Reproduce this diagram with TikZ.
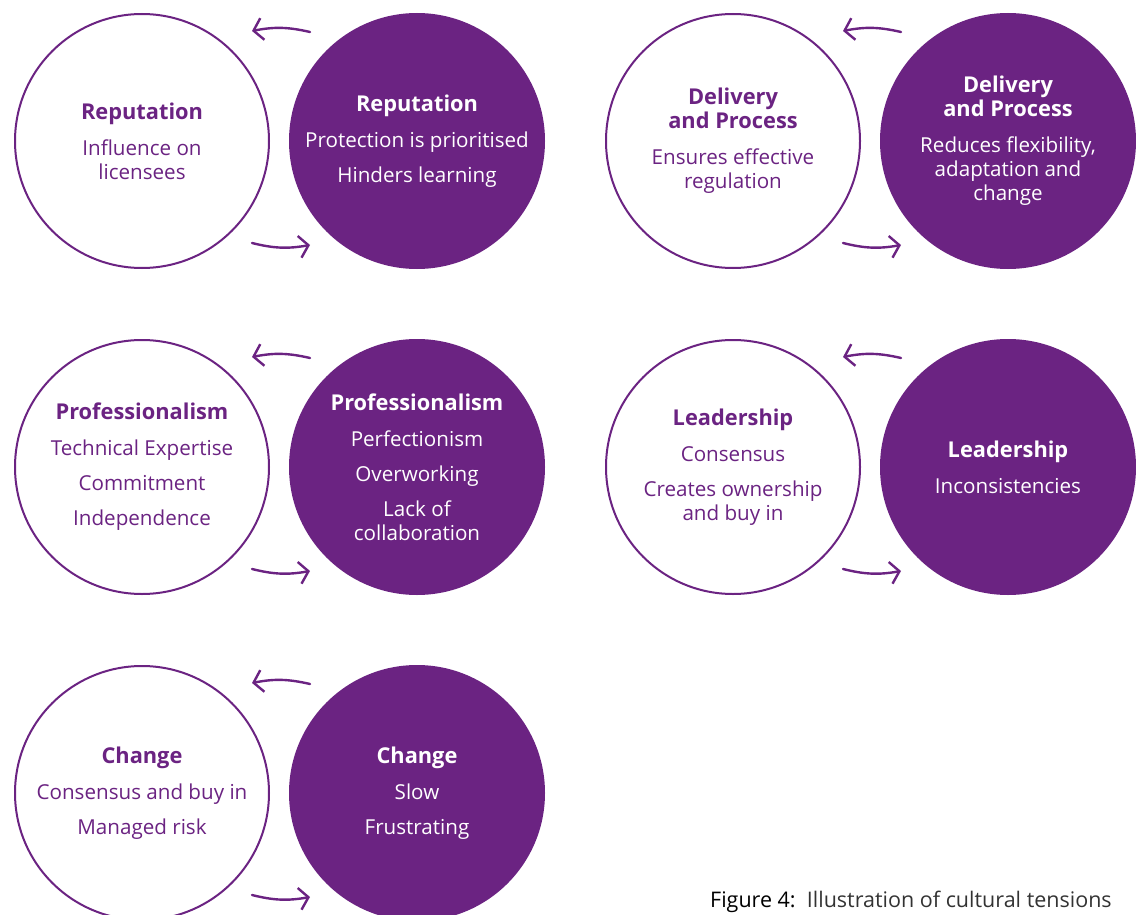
\documentclass[tikz,border=0pt]{standalone}
\usepackage{fontspec}
\setmainfont{Open Sans}
\usetikzlibrary{arrows.meta}
\definecolor{purp}{RGB}{107,35,130}
\begin{document}
\begin{tikzpicture}[x=1pt,y=-1pt,
  base/.style={circle, line width=2pt, minimum size=254pt, inner sep=0pt, align=center,
    font=\fontsize{20.6}{24}\selectfont},
  light/.style={base, draw=purp, fill=white, text=purp},
  dark/.style={base, draw=purp, fill=purp, text=white},
  arr/.style={draw=purp, line width=2.4pt, line cap=round, -{Straight Barb[length=9pt,width=22pt,line width=2.4pt]}},
]
\useasboundingbox (0,0) rectangle (1136,915);
\newcommand{\gapA}{\\[12pt]}
\newcommand{\gapB}{\\[11pt]}
\newcommand{\ttl}[1]{\textbf{\fontsize{21.8}{25}\selectfont #1}}
% row 1
\node[light] (w1) at (142,141) {\ttl{Reputation}\gapA Influence on\\licensees};
\node[dark]  (d1) at (417,141) {\ttl{Reputation}\gapA Protection is prioritised\gapB Hinders learning};
\node[light] (w2) at (733,141) {\ttl{Delivery}\\\ttl{and Process}\gapA Ensures effective\\regulation};
\node[dark]  (d2) at (1008,141) {\ttl{Delivery}\\\ttl{and Process}\gapA Reduces flexibility,\\adaptation and\\change};
% row 2
\node[light] (w3) at (142,467) {\ttl{Professionalism}\gapA Technical Expertise\gapB Commitment\gapB Independence};
\node[dark]  (d3) at (417,467) {\ttl{Professionalism}\gapA Perfectionism\gapB Overworking\gapB Lack of\\collaboration};
\node[light] (w4) at (733,467) {\ttl{Leadership}\gapA Consensus\gapB Creates ownership\\and buy in};
\node[dark]  (d4) at (1008,467) {\ttl{Leadership}\gapA Inconsistencies};
% row 3
\node[light] (w5) at (142,793) {\ttl{Change}\gapA Consensus and buy in\gapB Managed risk};
\node[dark]  (d5) at (417,793) {\ttl{Change}\gapA Slow\gapB Frustrating};
% arrows
\foreach \d/\w in {d1/w1,d2/w2,d3/w3,d4/w4,d5/w5}{
  \coordinate (\d ts) at ([shift={(-107,-109)}]\d.center);
  \coordinate (\d te) at ([shift={(-165,-110)}]\d.center);
  \coordinate (\d bs) at ([shift={(-165,102)}]\d.center);
  \coordinate (\d be) at ([shift={(-107,104)}]\d.center);
  \draw[arr] (\d ts) to[bend right=12] (\d te);
  \draw[arr] (\d bs) to[bend right=12] (\d be);
}
\node[anchor=north west, inner sep=0pt, font=\fontsize{21.5}{24}\selectfont] (cap) at (710,891)
  {Figure 4:\ \ \textcolor{black!80}{Illustration of cultural tensions}};
\end{tikzpicture}
\end{document}
